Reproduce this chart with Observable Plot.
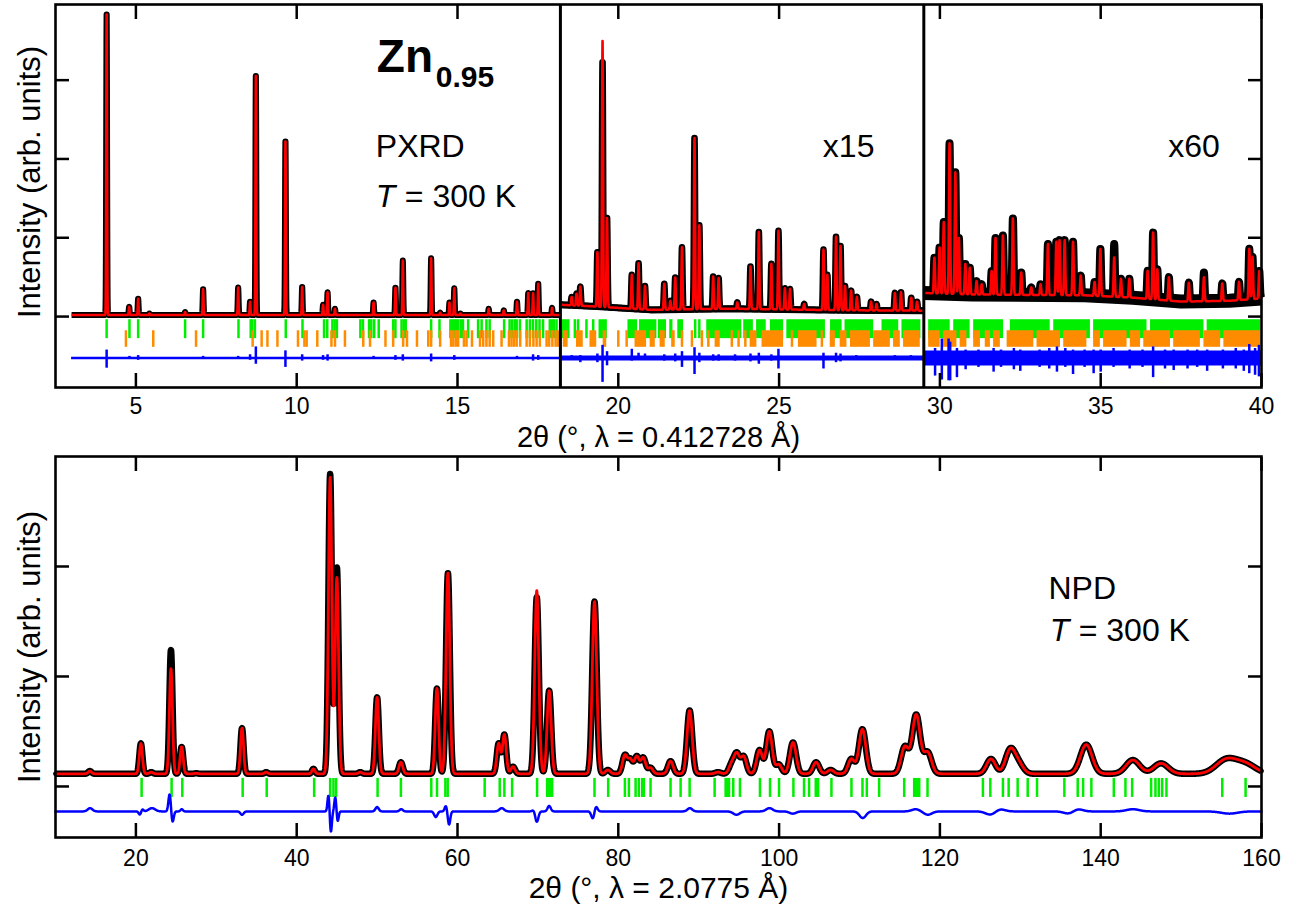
<!DOCTYPE html>
<html>
<head>
<meta charset="utf-8">
<script src="https://cdn.jsdelivr.net/npm/d3@7"></script>
<script src="https://cdn.jsdelivr.net/npm/@observablehq/plot@0.6"></script>
<style>
  html, body { margin: 0; padding: 0; background: #fff; }
  #chart svg { display: block; }
</style>
</head>
<body>
<div id="chart"></div>
<script>
// ======================= DATA : PXRD (top panel) =======================
// x15 / x60 regions are stored as displayed (already multiplied)
const pxrdRegionStart = [3, 18.2, 29.5];
const pxrdRegionEnd = [18.2, 29.5, 40];
const pxrdRegionLabel = ["", "x15", "x60"];
const pxrdFwhm = [0.03, 0.04, 0.045];

// background points (region index, 2θ, intensity)
const pxrdBgRegion = [0, 0, 1, 1, 1, 1, 1, 1, 2, 2, 2, 2, 2, 2, 2];
const pxrdBgX = [3, 18.2, 18.2, 19.2, 21, 23.5, 27, 29.5, 29.5, 31, 34.5, 36, 37.5, 39, 40];
const pxrdBgY = [0.02, 0.02, 0.15, 0.13, 0.085, 0.1, 0.08, 0.075, 0.3, 0.28, 0.27, 0.24, 0.19, 0.2, 0.23];

// calculated peak positions / apex heights
const pxrdPeakPos = [
  4.09, 4.79, 5.07, 5.42, 6.53, 7.09, 8.18, 8.55, 8.73, 9.65, 10.17, 10.82, 10.96, 11.19,
  12.39, 13.07, 13.30, 14.18, 14.46, 14.75, 14.90, 15.09, 15.97, 16.44, 16.85, 17.20, 17.35, 17.51, 17.94,
  18.55, 18.70, 18.82, 19.35, 19.51, 19.65, 20.42, 20.63, 20.83, 21.43, 21.62, 21.77, 21.98, 22.37, 22.52,
  22.95, 23.12, 23.70, 24.11, 24.37, 24.76, 24.98, 25.18, 25.34, 25.78, 26.38, 26.50, 26.77, 26.91, 27.05,
  27.24, 27.42, 27.86, 28.03, 28.60, 28.79, 29.11, 29.29,
  29.83, 29.99, 30.12, 30.30, 30.48, 30.59, 30.79, 30.93, 31.14, 31.30, 31.61, 31.73, 31.96, 32.27, 32.53,
  32.84, 33.13, 33.36, 33.62, 33.72, 33.88, 34.14, 34.38, 34.81, 34.99, 35.42, 35.63, 35.89, 36.46, 36.63,
  36.76, 37.12, 37.74, 38.21, 38.78, 39.30, 39.62, 39.72, 39.93
];
const pxrdPeakHeight = [
  3.88, 0.127, 0.23, 0.04, 0.06, 0.35, 0.37, 0.19, 3.09, 2.25, 0.38, 0.15, 0.31, 0.10,
  0.18, 0.37, 0.71, 0.74, 0.05, 0.18, 0.36, 0.04, 0.10, 0.08, 0.19, 0.30, 0.30, 0.42, 0.11,
  0.25, 0.29, 0.38, 0.82, 3.52, 1.26, 0.53, 0.68, 0.39, 0.42, 0.20, 0.50, 0.88, 2.28, 1.16,
  0.51, 0.49, 0.18, 0.64, 1.08, 0.67, 1.09, 0.36, 0.35, 0.16, 0.85, 0.53, 1.02, 0.90, 0.39,
  0.33, 0.25, 0.19, 0.16, 0.30, 0.31, 0.24, 0.19,
  0.75, 0.88, 1.20, 2.20, 1.83, 1.00, 0.67, 0.62, 0.45, 0.41, 0.58, 1.00, 1.03, 1.25, 0.56,
  0.37, 0.41, 0.92, 0.95, 0.97, 0.97, 0.95, 0.52, 0.44, 0.86, 0.75, 0.48, 0.48, 0.58, 1.07,
  0.60, 0.50, 0.43, 0.50, 0.42, 0.44, 0.86, 0.76, 0.58
];
// peaks where the observed apex differs from the calculated one
const pxrdObsPos = [19.51, 35.42, 38.21];
const pxrdObsHeight = [3.25, 0.92, 0.56];

// difference curve (level + spikes up/down)
const pxrdDiffLevel = -0.525;
const pxrdDiffPos = [
  4.09, 4.80, 5.07, 7.09, 8.18, 8.55, 8.73, 9.65, 10.17, 10.82, 10.96, 12.39, 13.07, 13.30, 14.18, 14.90, 16.85, 17.35, 17.51,
  18.55, 18.82, 19.35, 19.51, 19.65, 20.42, 20.63, 20.83, 21.43, 21.77, 21.98, 22.37, 22.52, 22.95, 23.12, 23.63, 24.11, 24.37,
  24.76, 24.98, 26.38, 26.77, 26.91, 27.4, 28.6, 29.1,
  29.85, 30.06, 30.27, 30.32, 30.53, 30.8, 31.2, 31.67, 31.9, 32.3, 32.5, 33.1, 33.4, 33.64, 33.9, 34.14, 34.5, 34.78, 35.0,
  35.4, 35.9, 36.3, 36.63, 37.0, 37.27, 37.7, 38.0, 38.31, 38.8, 39.2, 39.45, 39.62, 39.8, 39.92
];
const pxrdDiffUp = [
  0.10, 0.02, 0.03, 0.02, 0.02, 0.04, 0.14, 0.09, 0.04, 0.03, 0.04, 0.02, 0.03, 0.04, 0.05, 0.03, 0.02, 0.04, 0.03,
  0.03, 0.03, 0.05, 0.16, 0.08, 0.11, 0.06, 0.05, 0.04, 0.05, 0.08, 0.13, 0.06, 0.04, 0.04, 0.04, 0.05, 0.06,
  0.04, 0.11, 0.06, 0.06, 0.05, 0.03, 0.03, 0.03,
  0.12, 0.24, 0.24, 0.2, 0.12, 0.1, 0.1, 0.12, 0.1, 0.12, 0.1, 0.1, 0.12, 0.14, 0.12, 0.1, 0.1, 0.1, 0.1,
  0.12, 0.1, 0.1, 0.14, 0.1, 0.1, 0.1, 0.1, 0.1, 0.1, 0.12, 0.1, 0.17, 0.12, 0.16
];
const pxrdDiffDown = [
  0.13, 0.02, 0.03, 0.02, 0.02, 0.03, 0.08, 0.12, 0.04, 0.03, 0.04, 0.02, 0.03, 0.04, 0.05, 0.03, 0.02, 0.04, 0.03,
  0.03, 0.06, 0.06, 0.31, 0.10, 0.04, 0.03, 0.03, 0.04, 0.05, 0.12, 0.21, 0.06, 0.04, 0.04, 0.04, 0.05, 0.08,
  0.04, 0.14, 0.14, 0.06, 0.05, 0.03, 0.03, 0.03,
  0.23, 0.28, 0.29, 0.29, 0.25, 0.15, 0.12, 0.18, 0.12, 0.15, 0.17, 0.12, 0.14, 0.18, 0.12, 0.21, 0.12, 0.2, 0.18,
  0.12, 0.14, 0.12, 0.25, 0.14, 0.16, 0.14, 0.12, 0.17, 0.14, 0.14, 0.17, 0.2, 0.22, 0.24
];

// reflection markers (phase 1 green, phase 2 orange)
const pxrdGreenTicks = [
  4.09, 4.80, 5.07, 6.53, 7.09, 8.19, 8.57, 8.62, 8.70, 9.66, 10.18, 10.85, 10.95, 11.11, 11.18, 11.25,
  11.98, 12.06, 12.25, 12.32, 12.41, 12.55, 13.0, 13.07, 13.26, 13.33, 13.39, 14.18, 14.44, 14.78, 14.84,
  14.9, 14.96, 15.02, 15.1, 15.17, 15.33, 15.64, 15.75, 15.9, 16.0, 16.45, 16.62, 16.7, 16.78, 16.84, 16.94,
  17.15, 17.25, 17.35, 17.45, 17.55, 17.66, 17.87, 17.94, 18.0, 18.08, 18.65, 18.75, 19.01, 19.22, 22.39, 22.52
];
const pxrdGreenBandStart = [18.25, 19.4, 20.3, 20.66, 21.25, 21.6, 21.85, 22.75, 23.9, 24.3, 24.73, 25.24, 26.6, 27.05, 28.2, 28.82,
  29.65, 30.43, 31.05, 32.19, 33.54, 34.78, 36.55, 38.31];
const pxrdGreenBandEnd = [18.5, 19.66, 20.6, 21.2, 21.5, 21.7, 22.03, 23.84, 24.2, 24.6, 25.14, 26.44, 26.96, 27.94, 28.72, 29.41,
  30.32, 30.94, 31.98, 33.43, 34.68, 36.44, 38.21, 39.97];
const pxrdOrangeTicks = [
  4.69, 5.54, 6.87, 8.63, 8.91, 9.09, 9.40, 10.04, 10.24, 10.31, 10.64, 11.08, 11.19, 11.5, 12.07, 12.28,
  12.76, 13.0, 13.31, 13.43, 13.74, 14.09, 14.18, 14.46, 14.8, 14.87, 14.95, 15.02, 15.2, 15.28, 15.45,
  15.7, 15.8, 15.9, 16.0, 16.11, 16.37, 16.6, 16.68, 16.76, 16.84, 16.95, 17.15, 17.25, 17.36, 17.46,
  17.56, 17.77, 17.85, 17.95, 18.05, 18.12, 20.0, 20.26, 21.98, 22.29, 22.6, 22.8, 23.53, 23.74, 23.95, 25.4, 26.33
];
const pxrdOrangeBandStart = [18.29, 18.7, 19.12, 19.53, 20.52, 20.99, 21.3, 21.66, 23.01, 24.1, 24.47, 25.6, 26.59, 26.9, 27.22,
  27.94, 28.56, 28.87, 29.65, 30.11, 30.63, 31.05, 31.41, 31.67, 32.09, 33.02, 33.85, 34.78, 35.09, 35.92, 36.34,
  37.27, 38.21, 38.83];
const pxrdOrangeBandEnd = [18.44, 18.91, 19.33, 19.64, 20.88, 21.15, 21.46, 21.77, 23.17, 24.31, 25.14, 26.18, 26.75, 27.11, 27.84,
  28.46, 28.77, 29.39, 30.01, 30.53, 30.84, 31.26, 31.57, 31.88, 32.92, 33.75, 34.57, 34.99, 35.82, 36.24, 37.17,
  38.1, 38.73, 39.97];

const pxrdXTicks = [5, 10, 15, 20, 25, 30, 35, 40];
const pxrdYTicks = [0, 1, 2, 3];

// ======================= DATA : NPD (bottom panel) =======================
const npdBgX = [10, 60, 110, 160];
const npdBgY = [0.115, 0.115, 0.115, 0.115];
const npdPeakPos = [
  14.27, 20.62, 21.9, 24.36, 25.69, 27.5, 33.2, 36.2, 42.08, 44.16, 45.0, 47.9, 50.0, 52.96, 57.44, 58.81,
  65.12, 65.83, 66.9, 69.86, 71.4, 77.04, 78.7, 80.81, 81.5, 82.3, 83.1, 84.0, 86.5, 88.87, 92.4, 94.1,
  94.75, 95.6, 97.57, 98.78, 99.95, 101.73, 104.6, 106.4, 108.99, 110.36, 115.64, 117.05, 118.47,
  126.35, 128.75, 129.8, 138.2, 144.0, 147.5, 155.6, 158.0
];
const npdPeakHeight = [
  0.14, 0.39, 0.13, 1.07, 0.36, 0.12, 0.53, 0.13, 0.16, 2.81, 1.90, 0.13, 0.81, 0.22, 0.89, 1.94,
  0.39, 0.47, 0.18, 1.78, 0.87, 1.68, 0.15, 0.28, 0.24, 0.27, 0.26, 0.17, 0.23, 0.69, 0.13, 0.2,
  0.29, 0.27, 0.33, 0.50, 0.2, 0.40, 0.22, 0.15, 0.25, 0.52, 0.36, 0.65, 0.31,
  0.25, 0.33, 0.2, 0.38, 0.24, 0.21, 0.24, 0.2
];
const npdPeakFwhm = [
  0.5, 0.45, 0.5, 0.45, 0.45, 0.5, 0.45, 0.45, 0.45, 0.5, 0.5, 0.5, 0.5, 0.55, 0.5, 0.55,
  0.55, 0.55, 0.6, 0.6, 0.6, 0.65, 0.7, 0.7, 0.7, 0.7, 0.7, 0.7, 0.75, 0.75, 0.8, 0.8,
  0.8, 0.8, 0.85, 0.85, 0.85, 0.9, 0.9, 0.9, 0.95, 1.0, 1.1, 1.15, 1.15,
  1.3, 1.4, 1.4, 1.7, 2.0, 2.1, 3.0, 3.0
];
const npdObsPos = [24.36, 44.16, 45.0, 69.86];
const npdObsHeight = [1.24, 2.84, 1.99, 1.72];

const npdDiffLevel = -0.227;
const npdDiffPos = [14.3, 20.5, 20.8, 22.0, 24.2, 24.55, 25.7, 33.2, 43.95, 44.25, 44.8, 45.1, 50.0, 53.0, 57.3, 58.55,
  58.95, 65.5, 69.55, 69.85, 71.4, 76.85, 77.2, 88.9, 94.7, 98.8, 101.7, 110.4, 117.0, 118.5, 126.3, 127.5,
  136.0, 137.2, 144.0, 156.0];
const npdDiffAmp = [0.03, -0.03, 0.02, 0.03, 0.16, -0.10, 0.02, -0.03, 0.15, -0.19, 0.13, -0.09, 0.04, 0.02, -0.05, 0.05,
  -0.12, 0.03, 0.02, -0.10, 0.05, -0.07, 0.05, 0.03, -0.03, 0.03, -0.02, -0.06, 0.02, -0.03, -0.03, 0.02,
  -0.02, 0.02, 0.02, -0.02];
const npdDiffWidth = [0.3, 0.15, 0.15, 0.4, 0.15, 0.15, 0.15, 0.2, 0.12, 0.12, 0.12, 0.12, 0.2, 0.2, 0.2, 0.15,
  0.15, 0.3, 0.2, 0.2, 0.2, 0.2, 0.2, 0.3, 0.4, 0.4, 0.4, 0.4, 0.5, 0.5, 0.6, 0.6,
  0.6, 0.6, 0.8, 1.0];

const npdGreenTicks = [
  20.71, 24.44, 25.77, 33.28, 36.27, 42.17, 44.16, 44.57, 44.9, 50.06, 52.96, 56.74, 57.45, 58.49, 58.78,
  63.38, 65.25, 65.83, 66.79, 69.9, 71.15, 71.35, 71.56, 71.77, 77.04, 78.74, 80.82, 81.32, 82.15, 82.56,
  82.98, 83.18, 84.01, 86.5, 87.75, 88.87, 91.98, 93.35, 93.56, 93.77, 94.3, 95.13, 97.62, 98.87, 99.99,
  101.78, 103.1, 103.73, 104.56, 104.85, 106.51, 109.0, 110.37, 110.91, 112.44, 115.56, 116.8, 117.01,
  117.22, 117.43, 118.46, 125.35, 126.27, 127.84, 128.55, 129.67, 130.92, 132.08, 135.48, 137.14, 137.81,
  138.84, 141.63, 143.08, 143.91, 146.27, 146.81, 147.23, 147.64, 148.18, 155.12, 158.02
];
const npdXTicks = [20, 40, 60, 80, 100, 120, 140, 160];
const npdYTicks = [0, 1, 2];

// ======================= helpers =======================
const FONT = "'Liberation Sans', Arial, Helvetica, sans-serif";
const RED = "#ff0000", GREEN = "#00ee00", ORANGE = "#ff8c00", BLUE = "#0000ff";
const K = 4 * Math.LN2;

function interp(xs, ys, x) {
  if (x <= xs[0]) return ys[0];
  for (let i = 0; i < xs.length - 1; i++) {
    if (x >= xs[i] && x <= xs[i + 1]) {
      const t = xs[i + 1] === xs[i] ? 0 : (x - xs[i]) / (xs[i + 1] - xs[i]);
      return ys[i] + t * (ys[i + 1] - ys[i]);
    }
  }
  return ys[ys.length - 1];
}

// ---- PXRD profiles ----
const pxrdCalc = [], pxrdObs = [], pxrdBgLine = [];
for (let r = 0; r < 3; r++) {
  const bi = pxrdBgRegion.map((g, i) => (g === r ? i : -1)).filter(i => i >= 0);
  const bx = bi.map(i => pxrdBgX[i]), by = bi.map(i => pxrdBgY[i]);
  bi.forEach(i => pxrdBgLine.push({x: pxrdBgX[i], y: pxrdBgY[i], r}));
  const w = pxrdFwhm[r];
  const pk = pxrdPeakPos.map((p, i) => i).filter(i => pxrdPeakPos[i] >= pxrdRegionStart[r] && pxrdPeakPos[i] < pxrdRegionEnd[r]);
  const ampC = pk.map(i => Math.max(0, pxrdPeakHeight[i] - interp(bx, by, pxrdPeakPos[i])));
  const ampO = pk.map((i, j) => {
    const k = pxrdObsPos.indexOf(pxrdPeakPos[i]);
    return k < 0 ? ampC[j] : Math.max(0, pxrdObsHeight[k] - interp(bx, by, pxrdPeakPos[i]));
  });
  const step = 0.004;
  const n = Math.round((pxrdRegionEnd[r] - pxrdRegionStart[r]) / step);
  for (let k = 0; k <= n; k++) {
    const x = pxrdRegionStart[r] + k * step;
    const b = interp(bx, by, x);
    let c = b, o = b;
    pk.forEach((i, j) => {
      const d = x - pxrdPeakPos[i];
      if (Math.abs(d) > 4 * w) return;
      const g = Math.exp(-K * d * d / (w * w));
      c += ampC[j] * g; o += ampO[j] * g;
    });
    pxrdCalc.push({x, y: c, r});
    pxrdObs.push({x, y: o, r});
  }
}

// ---- NPD profiles ----
const npdCalc = [], npdObs = [], npdDots = [], npdDiff = [];
{
  const ampC = npdPeakPos.map((p, i) => Math.max(0, npdPeakHeight[i] - interp(npdBgX, npdBgY, p)));
  const ampO = npdPeakPos.map((p, i) => {
    const k = npdObsPos.indexOf(p);
    return k < 0 ? ampC[i] : Math.max(0, npdObsHeight[k] - interp(npdBgX, npdBgY, p));
  });
  const step = 0.02;
  const n = Math.round((160 - 10) / step);
  for (let k = 0; k <= n; k++) {
    const x = 10 + k * step;
    const b = interp(npdBgX, npdBgY, x);
    let c = b, o = b;
    npdPeakPos.forEach((p, i) => {
      const d = x - p, w = npdPeakFwhm[i];
      if (Math.abs(d) > 4 * w) return;
      const g = Math.exp(-K * d * d / (w * w));
      c += ampC[i] * g; o += ampO[i] * g;
    });
    npdCalc.push({x, y: c});
    npdObs.push({x, y: o});
    if (k % 3 === 0) npdDots.push({x, y: o});
    if (k % 2 === 0) {
      let dv = npdDiffLevel;
      npdDiffPos.forEach((p, i) => {
        const d = x - p, s = npdDiffWidth[i];
        if (Math.abs(d) > 5 * s) return;
        dv += npdDiffAmp[i] * Math.exp(-d * d / (2 * s * s));
      });
      npdDiff.push({x, y: dv});
    }
  }
}

// ======================= shared axis builders =======================
function frameAxes(xTicks, yTicks, pad) {
  return [
    Plot.axisX({anchor: "bottom", ticks: xTicks, tickSize: 14, dy: -14, tickFormat: () => "", label: null, strokeWidth: 2.5}),
    Plot.axisX({anchor: "top", ticks: xTicks, tickSize: 14, dy: 14, tickFormat: () => "", label: null, strokeWidth: 2.5}),
    Plot.axisX({anchor: "bottom", ticks: xTicks, tickSize: 0, tickPadding: pad, fontSize: 23, label: null}),
    Plot.axisY({anchor: "left", ticks: yTicks, tickSize: 14, dx: 14, tickFormat: () => "", label: null, strokeWidth: 2.5}),
    Plot.axisY({anchor: "right", ticks: yTicks, tickSize: 14, dx: -14, tickFormat: () => "", label: null, strokeWidth: 2.5}),
    Plot.frame({stroke: "black", strokeWidth: 2.6})
  ];
}
const textStyle = {fontFamily: FONT, fill: "black", textAnchor: "start", lineAnchor: "bottom"};
const lineCaps = {strokeLinejoin: "round", strokeLinecap: "butt"};

// ======================= TOP : PXRD =======================
const regIdx = [0, 1, 2];
const obsWidth = [6, 6.5, 8];
const bgBandWidth = [0, 7, 14];
const diffWidth = [2.5, 5, 15];

const topPlot = Plot.plot({
  width: 1302, height: 450,
  marginLeft: 55, marginRight: 41, marginTop: 4, marginBottom: 63,
  x: {domain: [2.5, 40]},
  y: {domain: [-0.9, 3.96]},
  style: {fontFamily: FONT, fontSize: "23px", color: "black", background: "white", overflow: "visible"},
  marks: [
    // reflection markers
    Plot.ruleX(pxrdGreenTicks, {x: d => d, y1: -0.04, y2: -0.28, stroke: GREEN, strokeWidth: 2.5}),
    Plot.rect(pxrdGreenBandStart.map((s, i) => i), {x1: i => pxrdGreenBandStart[i], x2: i => pxrdGreenBandEnd[i], y1: -0.04, y2: -0.28, fill: GREEN}),
    Plot.ruleX(pxrdOrangeTicks, {x: d => d, y1: -0.18, y2: -0.39, stroke: ORANGE, strokeWidth: 2.5}),
    Plot.rect(pxrdOrangeBandStart.map((s, i) => i), {x1: i => pxrdOrangeBandStart[i], x2: i => pxrdOrangeBandEnd[i], y1: -0.18, y2: -0.39, fill: ORANGE}),
    // difference curve
    ...regIdx.map(r => Plot.ruleY([pxrdDiffLevel], {x1: pxrdRegionStart[r], x2: pxrdRegionEnd[r], stroke: BLUE, strokeWidth: diffWidth[r]})),
    Plot.ruleX(pxrdDiffPos.map((p, i) => i), {x: i => pxrdDiffPos[i], y1: i => pxrdDiffLevel + pxrdDiffUp[i], y2: i => pxrdDiffLevel - pxrdDiffDown[i], stroke: BLUE, strokeWidth: 2.5}),
    // observed (black) : noisy background band + profile
    ...[1, 2].map(r => Plot.line(pxrdBgLine.filter(d => d.r === r), {x: "x", y: "y", stroke: "black", strokeWidth: bgBandWidth[r], ...lineCaps})),
    ...regIdx.map(r => Plot.line(pxrdObs.filter(d => d.r === r), {x: "x", y: "y", stroke: "black", strokeWidth: obsWidth[r], ...lineCaps})),
    // calculated (red)
    ...regIdx.map(r => Plot.line(pxrdCalc.filter(d => d.r === r), {x: "x", y: "y", stroke: RED, strokeWidth: 2.5, ...lineCaps})),
    // region separators
    Plot.ruleX(pxrdRegionStart.slice(1), {stroke: "black", strokeWidth: 3}),
    ...frameAxes(pxrdXTicks, pxrdYTicks, 10),
    // annotations
    Plot.text([{x: 12.49, y: 3.104}], {x: "x", y: "y", text: () => "Zn", fontSize: 46, fontWeight: "bold", ...textStyle}),
    Plot.text([{x: 12.49, y: 3.104}], {x: "x", y: "y", text: () => "0.95", fontSize: 30, fontWeight: "bold", dx: 59, dy: 15, ...textStyle}),
    Plot.text([{x: 12.46, y: 2.024}], {x: "x", y: "y", text: () => "PXRD", fontSize: 32, ...textStyle}),
    Plot.text([{x: 12.46, y: 1.389}], {x: "x", y: "y", text: () => "T", fontSize: 32, fontStyle: "italic", ...textStyle}),
    Plot.text([{x: 12.46, y: 1.389}], {x: "x", y: "y", text: () => "= 300 K", fontSize: 32, dx: 29, ...textStyle}),
    Plot.text([{x: 26.36, y: 2.024, t: pxrdRegionLabel[1]}, {x: 37.1, y: 2.024, t: pxrdRegionLabel[2]}], {x: "x", y: "y", text: "t", fontSize: 32, ...textStyle}),
    Plot.text(["2θ (°, λ = 0.412728 Å)"], {frameAnchor: "bottom", textAnchor: "middle", dy: 59, lineAnchor: "bottom", fontSize: 29, fontFamily: FONT}),
    Plot.text(["Intensity (arb. units)"], {frameAnchor: "left", textAnchor: "middle", rotate: -90, dx: -25, dy: -14, lineAnchor: "middle", fontSize: 31, fontFamily: FONT})
  ]
});

// ======================= BOTTOM : NPD =======================
const bottomPlot = Plot.plot({
  width: 1302, height: 457,
  marginLeft: 55, marginRight: 41, marginTop: 6, marginBottom: 70,
  x: {domain: [10, 160]},
  y: {domain: [-0.464, 3.0]},
  style: {fontFamily: FONT, fontSize: "23px", color: "black", background: "white", overflow: "visible"},
  marks: [
    Plot.ruleX(npdGreenTicks, {x: d => d, y1: 0.073, y2: -0.1, stroke: GREEN, strokeWidth: 2.5}),
    Plot.line(npdDiff, {x: "x", y: "y", stroke: BLUE, strokeWidth: 2.5}),
    Plot.line(npdObs, {x: "x", y: "y", stroke: "black", strokeWidth: 6.5, ...lineCaps}),
    Plot.dot(npdDots, {x: "x", y: "y", r: 2.4, fill: "black", stroke: null}),
    Plot.line(npdCalc, {x: "x", y: "y", stroke: RED, strokeWidth: 2.8, ...lineCaps}),
    ...frameAxes(npdXTicks, npdYTicks, 12),
    Plot.text([{x: 133.5, y: 1.706}], {x: "x", y: "y", text: () => "NPD", fontSize: 32, ...textStyle}),
    Plot.text([{x: 133.66, y: 1.321}], {x: "x", y: "y", text: () => "T", fontSize: 32, fontStyle: "italic", ...textStyle}),
    Plot.text([{x: 133.66, y: 1.321}], {x: "x", y: "y", text: () => "= 300 K", fontSize: 32, dx: 29, ...textStyle}),
    Plot.text(["2θ (°, λ = 2.0775 Å)"], {frameAnchor: "bottom", textAnchor: "middle", dy: 60, lineAnchor: "bottom", fontSize: 30, fontFamily: FONT}),
    Plot.text(["Intensity (arb. units)"], {frameAnchor: "left", textAnchor: "middle", rotate: -90, dx: -25, lineAnchor: "middle", fontSize: 31, fontFamily: FONT})
  ]
});

const chart = document.getElementById("chart");
chart.appendChild(topPlot);
chart.appendChild(bottomPlot);
</script>
</body>
</html>
